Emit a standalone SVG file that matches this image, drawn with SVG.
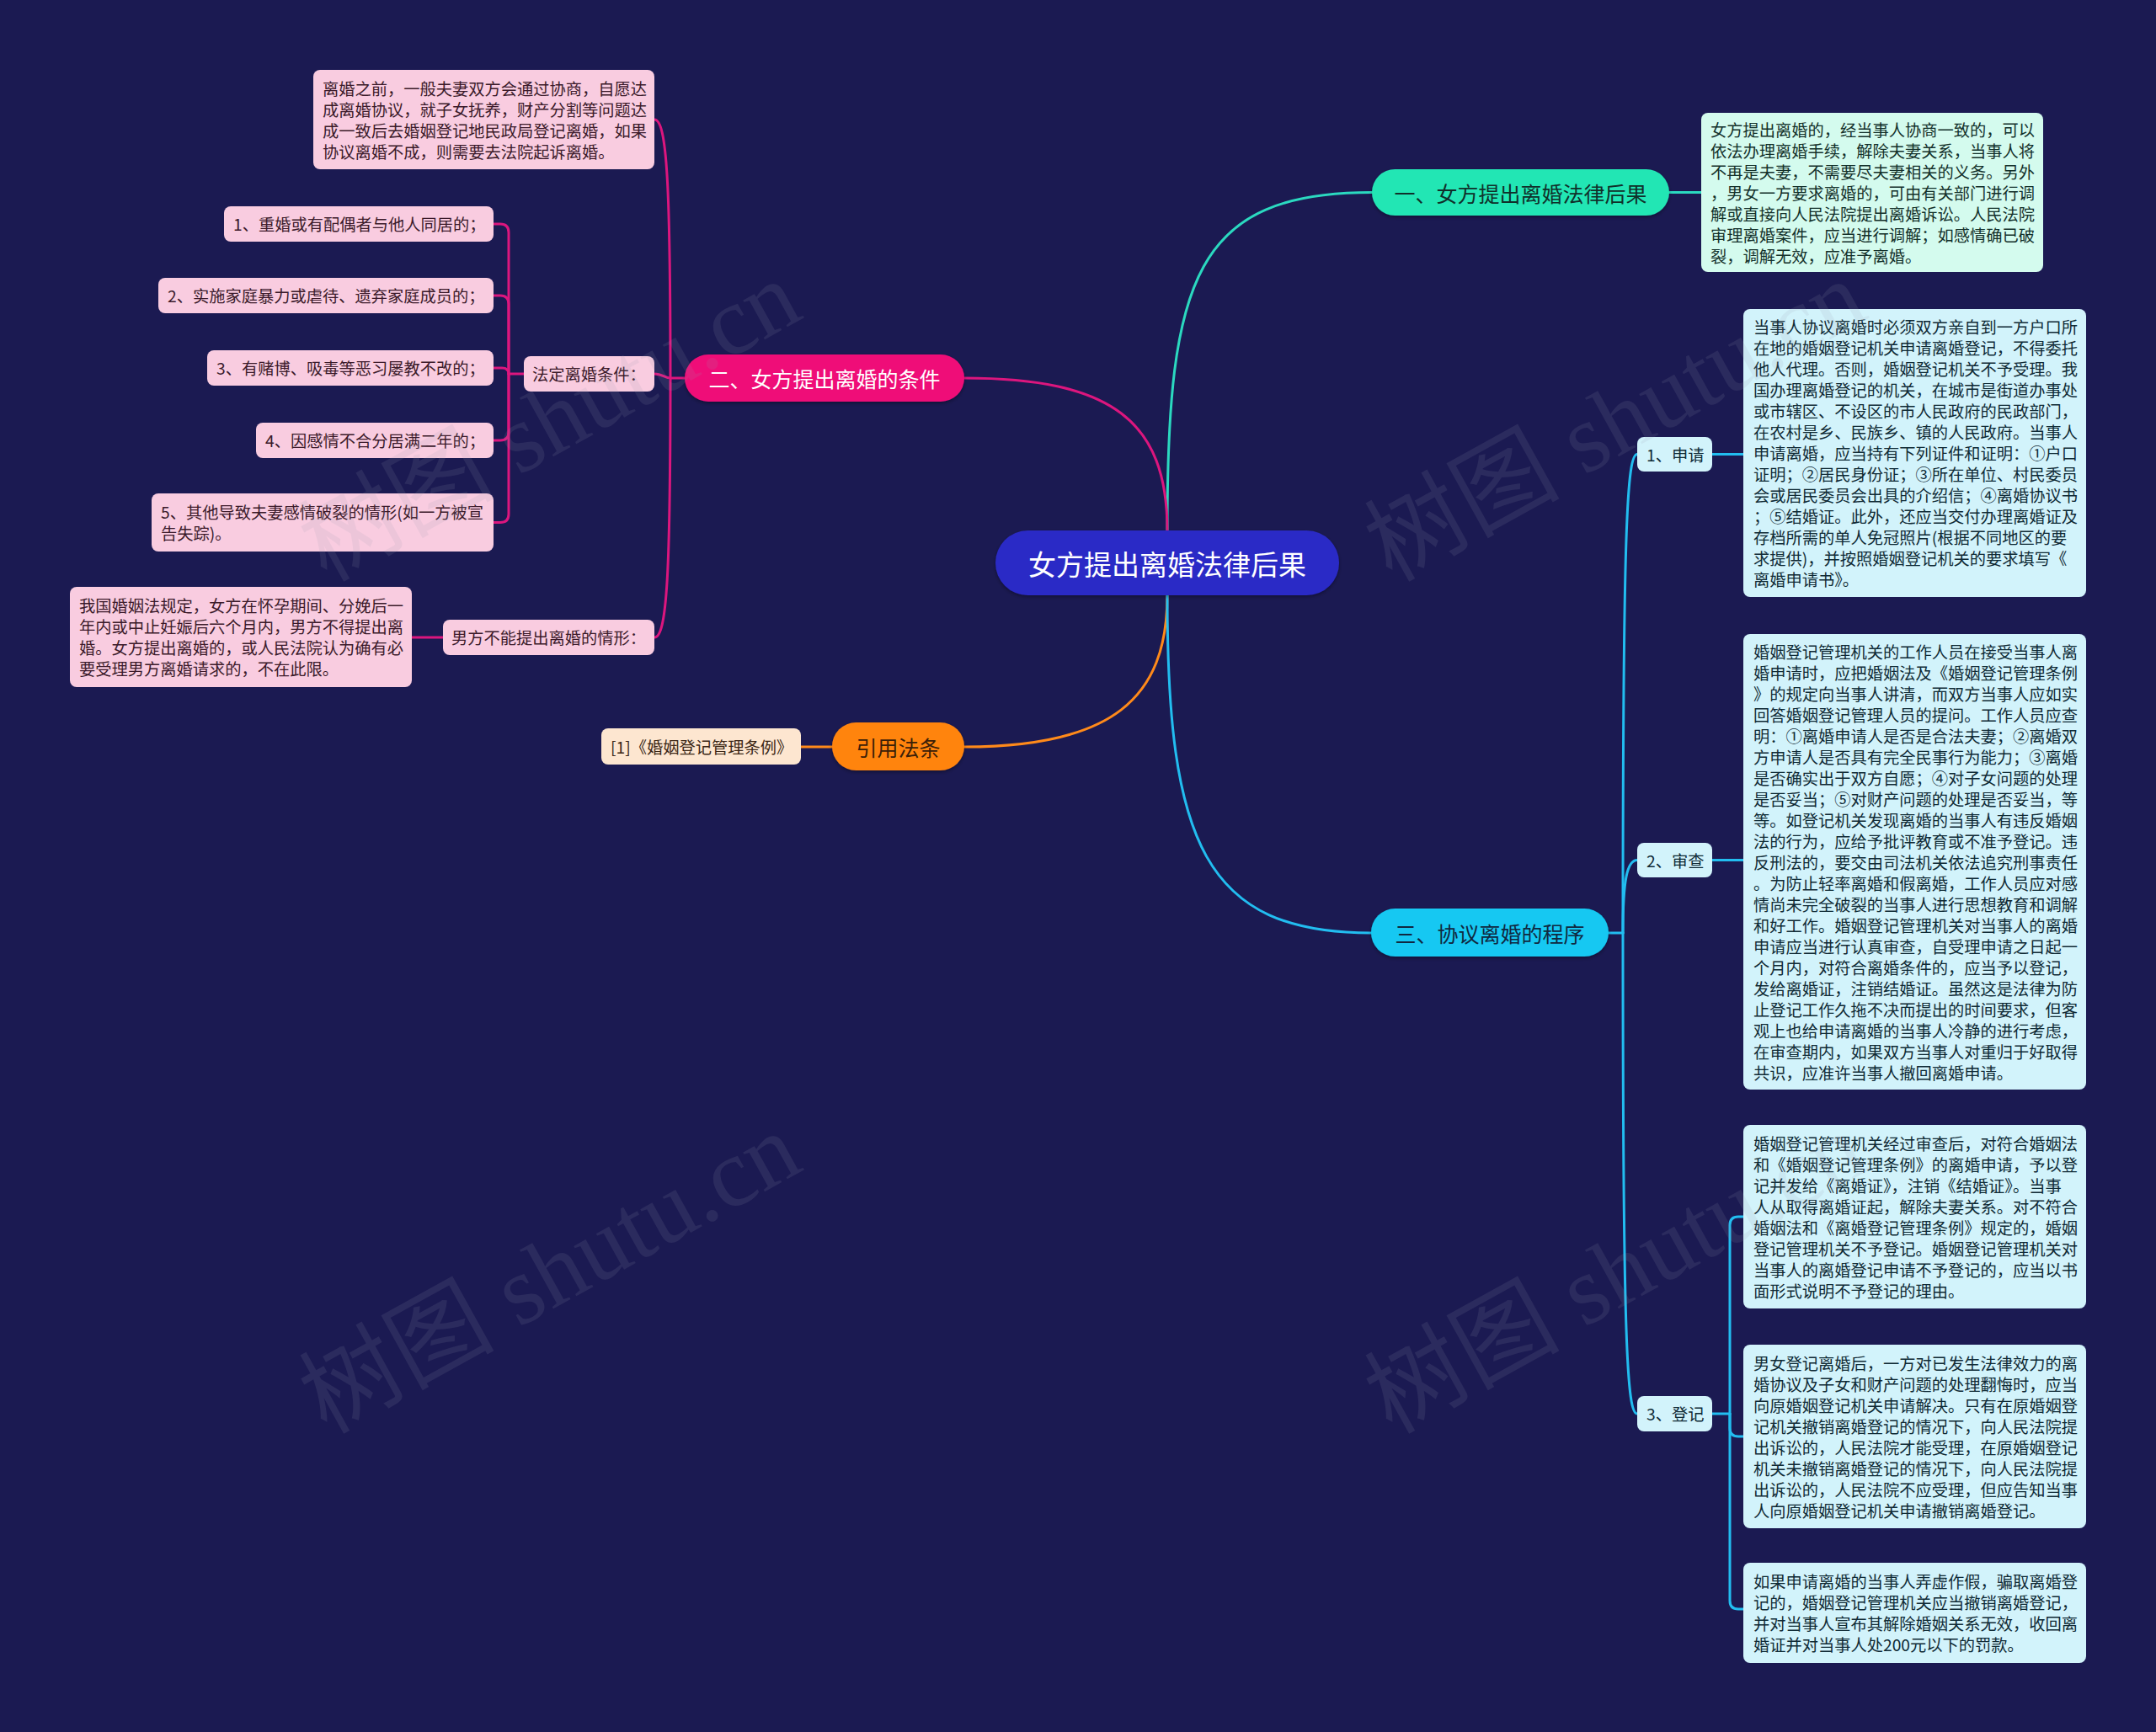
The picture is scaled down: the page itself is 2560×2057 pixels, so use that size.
<svg xmlns="http://www.w3.org/2000/svg" width="2560" height="2057" viewBox="0 0 2560 2057">
<defs>
<style>
text{font-family:"Noto Sans CJK SC","Noto Sans",sans-serif;dominant-baseline:central}
.s{font-size:19.25px}
.m{font-size:25px;text-anchor:middle}
.pk rect{fill:#f9cce0}.pk text{fill:#3b1a2a}
.cy rect{fill:#d2f3fb}.cy text{fill:#0f2a35}
.mn rect{fill:#d4fbee}.mn text{fill:#13302a}
.or rect{fill:#fde6d0}.or text{fill:#3b2615}
.c{fill:none;stroke-width:3;stroke-linecap:round}
.cp{stroke:#dc167e}.ct{stroke:#2bd9c0}.cc{stroke:#22bdf0}.co{stroke:#ff8a1a}
.wm{font-family:"Liberation Serif","Noto Sans CJK SC",serif;font-size:116px;fill:#9a9ab0;opacity:0.13;text-anchor:middle}
</style>
<filter id="sh" x="-10%" y="-20%" width="120%" height="150%">
<feDropShadow dx="0" dy="2" stdDeviation="2" flood-color="#000" flood-opacity="0.35"/>
</filter>
</defs>
<rect width="2560" height="2057" fill="#1b1a52"/>

<g id="connectors">
<path class="c ct" d="M1386,630 C1386,330 1420,228.5 1629,228.5"/>
<path class="c cp" d="M1386,630 C1386,500 1320,449 1145,449"/>
<path class="c co" d="M1386,707 C1386,830 1320,887 1145,887"/>
<path class="c cc" d="M1386,707 C1386,1000 1430,1108 1628,1108"/>
<path class="c ct" d="M1982,228.5 H2020"/>
<path class="c cp" d="M813,449 H796"/>
<path class="c cp" d="M796,449 C796,220 792,142 777,142"/>
<path class="c cp" d="M796,449 C790,449 786,444 777,444"/>
<path class="c cp" d="M796,449 C796,680 792,757 777,757"/>
<path class="c cp" d="M526,757 H489"/>
<path class="c cp" d="M622,444 H604"/>
<path class="c cp" d="M604,444 V276 Q604,266 594,266 H586"/>
<path class="c cp" d="M604,444 V361 Q604,351 594,351 H586"/>
<path class="c cp" d="M604,444 Q604,437 596,437 H586"/>
<path class="c cp" d="M604,444 V513 Q604,523 594,523 H586"/>
<path class="c cp" d="M604,444 V610.5 Q604,620.5 594,620.5 H586"/>
<path class="c co" d="M988,887 H951"/>
<path class="c cc" d="M1910,1108 H1927"/>
<path class="c cc" d="M1927,1108 C1927,620 1932,539.5 1944,539.5"/>
<path class="c cc" d="M1927,1108 C1927,1045 1932,1021.5 1944,1021.5"/>
<path class="c cc" d="M1927,1108 C1927,1600 1932,1679 1944,1679"/>
<path class="c cc" d="M2033,539.5 H2070"/>
<path class="c cc" d="M2033,1021.5 H2070"/>
<path class="c cc" d="M2033,1679 H2054"/>
<path class="c cc" d="M2054,1679 V1455 Q2054,1445 2064,1445 H2070"/>
<path class="c cc" d="M2054,1679 V1696 Q2054,1706 2064,1706 H2070"/>
<path class="c cc" d="M2054,1679 V1901 Q2054,1911 2064,1911 H2070"/>
</g>

<g id="root">
<rect x="1182" y="630" width="408" height="77" rx="38.5" fill="#2a2ac6" filter="url(#sh)"/>
<text x="1386" y="668.5" style="font-size:33px;text-anchor:middle" fill="#ffffff">女方提出离婚法律后果</text>
</g>

<g id="n1">
<rect x="1629" y="201" width="353" height="55" rx="27.5" fill="#22e6b4" filter="url(#sh)"/>
<text class="m" x="1805.5" y="228.5" fill="#10302a">一、女方提出离婚法律后果</text>
</g>
<g id="n1-text" class="mn">
<rect x="2020" y="134" width="406" height="189" rx="8"/>
<text class="s" x="2031" y="153.5"><tspan x="2031" y="153.5">女方提出离婚的，经当事人协商一致的，可以</tspan><tspan x="2031" y="178.5">依法办理离婚手续，解除夫妻关系，当事人将</tspan><tspan x="2031" y="203.5">不再是夫妻，不需要尽夫妻相关的义务。另外</tspan><tspan x="2031" y="228.5">，男女一方要求离婚的，可由有关部门进行调</tspan><tspan x="2031" y="253.5">解或直接向人民法院提出离婚诉讼。人民法院</tspan><tspan x="2031" y="278.5">审理离婚案件，应当进行调解；如感情确已破</tspan><tspan x="2031" y="303.5">裂，调解无效，应准予离婚。</tspan></text>
</g>

<g id="n2">
<rect x="813" y="421" width="332" height="56" rx="28" fill="#ef0f78" filter="url(#sh)"/>
<text class="m" x="979" y="449" fill="#ffffff">二、女方提出离婚的条件</text>
</g>
<g id="n2-a" class="pk">
<rect x="372" y="83" width="405" height="118" rx="8"/>
<text class="s"><tspan x="383" y="104.5">离婚之前，一般夫妻双方会通过协商，自愿达</tspan><tspan x="383" y="129.5">成离婚协议，就子女抚养，财产分割等问题达</tspan><tspan x="383" y="154.5">成一致后去婚姻登记地民政局登记离婚，如果</tspan><tspan x="383" y="179.5">协议离婚不成，则需要去法院起诉离婚。</tspan></text>
</g>
<g id="n2-b" class="pk">
<rect x="622" y="423" width="155" height="42" rx="8"/>
<text class="s" x="632" y="444">法定离婚条件：</text>
</g>
<g id="n2-b1" class="pk">
<rect x="266" y="245" width="320" height="42" rx="8"/>
<text class="s" x="277" y="266">1、重婚或有配偶者与他人同居的；</text>
</g>
<g id="n2-b2" class="pk">
<rect x="188" y="330" width="398" height="42" rx="8"/>
<text class="s" x="199" y="351">2、实施家庭暴力或虐待、遗弃家庭成员的；</text>
</g>
<g id="n2-b3" class="pk">
<rect x="246" y="416" width="340" height="42" rx="8"/>
<text class="s" x="257" y="437">3、有赌博、吸毒等恶习屡教不改的；</text>
</g>
<g id="n2-b4" class="pk">
<rect x="304" y="502" width="282" height="42" rx="8"/>
<text class="s" x="315" y="523">4、因感情不合分居满二年的；</text>
</g>
<g id="n2-b5" class="pk">
<rect x="180" y="586" width="406" height="69" rx="8"/>
<text class="s"><tspan x="191" y="608">5、其他导致夫妻感情破裂的情形(如一方被宣</tspan><tspan x="191" y="633">告失踪)。</tspan></text>
</g>
<g id="n2-c" class="pk">
<rect x="526" y="736" width="251" height="42" rx="8"/>
<text class="s" x="536" y="757">男方不能提出离婚的情形：</text>
</g>
<g id="n2-c1" class="pk">
<rect x="83" y="697" width="406" height="119" rx="8"/>
<text class="s"><tspan x="94" y="719">我国婚姻法规定，女方在怀孕期间、分娩后一</tspan><tspan x="94" y="744">年内或中止妊娠后六个月内，男方不得提出离</tspan><tspan x="94" y="769">婚。女方提出离婚的，或人民法院认为确有必</tspan><tspan x="94" y="794">要受理男方离婚请求的，不在此限。</tspan></text>
</g>

<g id="n4">
<rect x="988" y="858" width="157" height="57" rx="28.5" fill="#ff8410" filter="url(#sh)"/>
<text class="m" x="1066.5" y="886.5" fill="#3b2008">引用法条</text>
</g>
<g id="n4-a" class="or">
<rect x="714" y="865" width="237" height="43" rx="8"/>
<text class="s" x="725" y="886.5">[1]《婚姻登记管理条例》</text>
</g>

<g id="n3">
<rect x="1628" y="1079" width="282" height="57" rx="28.5" fill="#12c8f2" filter="url(#sh)"/>
<text class="m" x="1769" y="1107.5" fill="#102840">三、协议离婚的程序</text>
</g>
<g id="n3-a" class="cy">
<rect x="1944" y="519" width="89" height="41" rx="8"/>
<text class="s" x="1955" y="539.5">1、申请</text>
</g>
<g id="n3-a1" class="cy">
<rect x="2070" y="367" width="407" height="342" rx="8"/>
<text class="s"><tspan x="2082" y="388">当事人协议离婚时必须双方亲自到一方户口所</tspan><tspan x="2082" y="413">在地的婚姻登记机关申请离婚登记，不得委托</tspan><tspan x="2082" y="438">他人代理。否则，婚姻登记机关不予受理。我</tspan><tspan x="2082" y="463">国办理离婚登记的机关，在城市是街道办事处</tspan><tspan x="2082" y="488">或市辖区、不设区的市人民政府的民政部门，</tspan><tspan x="2082" y="513">在农村是乡、民族乡、镇的人民政府。当事人</tspan><tspan x="2082" y="538">申请离婚，应当持有下列证件和证明：①户口</tspan><tspan x="2082" y="563">证明；②居民身份证；③所在单位、村民委员</tspan><tspan x="2082" y="588">会或居民委员会出具的介绍信；④离婚协议书</tspan><tspan x="2082" y="613">；⑤结婚证。此外，还应当交付办理离婚证及</tspan><tspan x="2082" y="638">存档所需的单人免冠照片(根据不同地区的要</tspan><tspan x="2082" y="663">求提供)，并按照婚姻登记机关的要求填写《</tspan><tspan x="2082" y="688">离婚申请书》。</tspan></text>
</g>
<g id="n3-b" class="cy">
<rect x="1944" y="1001" width="89" height="41" rx="8"/>
<text class="s" x="1955" y="1021.5">2、审查</text>
</g>
<g id="n3-b1" class="cy">
<rect x="2070" y="753" width="407" height="541" rx="8"/>
<text class="s"><tspan x="2082" y="773.5">婚姻登记管理机关的工作人员在接受当事人离</tspan><tspan x="2082" y="798.5">婚申请时，应把婚姻法及《婚姻登记管理条例</tspan><tspan x="2082" y="823.5">》的规定向当事人讲清，而双方当事人应如实</tspan><tspan x="2082" y="848.5">回答婚姻登记管理人员的提问。工作人员应查</tspan><tspan x="2082" y="873.5">明：①离婚申请人是否是合法夫妻；②离婚双</tspan><tspan x="2082" y="898.5">方申请人是否具有完全民事行为能力；③离婚</tspan><tspan x="2082" y="923.5">是否确实出于双方自愿；④对子女问题的处理</tspan><tspan x="2082" y="948.5">是否妥当；⑤对财产问题的处理是否妥当，等</tspan><tspan x="2082" y="973.5">等。如登记机关发现离婚的当事人有违反婚姻</tspan><tspan x="2082" y="998.5">法的行为，应给予批评教育或不准予登记。违</tspan><tspan x="2082" y="1023.5">反刑法的，要交由司法机关依法追究刑事责任</tspan><tspan x="2082" y="1048.5">。为防止轻率离婚和假离婚，工作人员应对感</tspan><tspan x="2082" y="1073.5">情尚未完全破裂的当事人进行思想教育和调解</tspan><tspan x="2082" y="1098.5">和好工作。婚姻登记管理机关对当事人的离婚</tspan><tspan x="2082" y="1123.5">申请应当进行认真审查，自受理申请之日起一</tspan><tspan x="2082" y="1148.5">个月内，对符合离婚条件的，应当予以登记，</tspan><tspan x="2082" y="1173.5">发给离婚证，注销结婚证。虽然这是法律为防</tspan><tspan x="2082" y="1198.5">止登记工作久拖不决而提出的时间要求，但客</tspan><tspan x="2082" y="1223.5">观上也给申请离婚的当事人冷静的进行考虑，</tspan><tspan x="2082" y="1248.5">在审查期内，如果双方当事人对重归于好取得</tspan><tspan x="2082" y="1273.5">共识，应准许当事人撤回离婚申请。</tspan></text>
</g>
<g id="n3-c" class="cy">
<rect x="1944" y="1658" width="89" height="42" rx="8"/>
<text class="s" x="1955" y="1679">3、登记</text>
</g>
<g id="n3-c1" class="cy">
<rect x="2070" y="1336" width="407" height="218" rx="8"/>
<text class="s"><tspan x="2082" y="1357.5">婚姻登记管理机关经过审查后，对符合婚姻法</tspan><tspan x="2082" y="1382.5">和《婚姻登记管理条例》的离婚申请，予以登</tspan><tspan x="2082" y="1407.5">记并发给《离婚证》，注销《结婚证》。当事</tspan><tspan x="2082" y="1432.5">人从取得离婚证起，解除夫妻关系。对不符合</tspan><tspan x="2082" y="1457.5">婚姻法和《离婚登记管理条例》规定的，婚姻</tspan><tspan x="2082" y="1482.5">登记管理机关不予登记。婚姻登记管理机关对</tspan><tspan x="2082" y="1507.5">当事人的离婚登记申请不予登记的，应当以书</tspan><tspan x="2082" y="1532.5">面形式说明不予登记的理由。</tspan></text>
</g>
<g id="n3-c2" class="cy">
<rect x="2070" y="1597" width="407" height="218" rx="8"/>
<text class="s"><tspan x="2082" y="1618.5">男女登记离婚后，一方对已发生法律效力的离</tspan><tspan x="2082" y="1643.5">婚协议及子女和财产问题的处理翻悔时，应当</tspan><tspan x="2082" y="1668.5">向原婚姻登记机关申请解决。只有在原婚姻登</tspan><tspan x="2082" y="1693.5">记机关撤销离婚登记的情况下，向人民法院提</tspan><tspan x="2082" y="1718.5">出诉讼的，人民法院才能受理，在原婚姻登记</tspan><tspan x="2082" y="1743.5">机关未撤销离婚登记的情况下，向人民法院提</tspan><tspan x="2082" y="1768.5">出诉讼的，人民法院不应受理，但应告知当事</tspan><tspan x="2082" y="1793.5">人向原婚姻登记机关申请撤销离婚登记。</tspan></text>
</g>
<g id="n3-c3" class="cy">
<rect x="2070" y="1856" width="407" height="119" rx="8"/>
<text class="s"><tspan x="2082" y="1878">如果申请离婚的当事人弄虚作假，骗取离婚登</tspan><tspan x="2082" y="1903">记的，婚姻登记管理机关应当撤销离婚登记，</tspan><tspan x="2082" y="1928">并对当事人宣布其解除婚姻关系无效，收回离</tspan><tspan x="2082" y="1953">婚证并对当事人处200元以下的罚款。</tspan></text>
</g>

<g id="watermarks">
<text class="wm" transform="translate(653,500) rotate(-29)">树图 shutu.cn</text>
<text class="wm" transform="translate(1918,500) rotate(-29)">树图 shutu.cn</text>
<text class="wm" transform="translate(653,1512) rotate(-29)">树图 shutu.cn</text>
<text class="wm" transform="translate(1918,1512) rotate(-29)">树图 shutu.cn</text>
</g>
</svg>
